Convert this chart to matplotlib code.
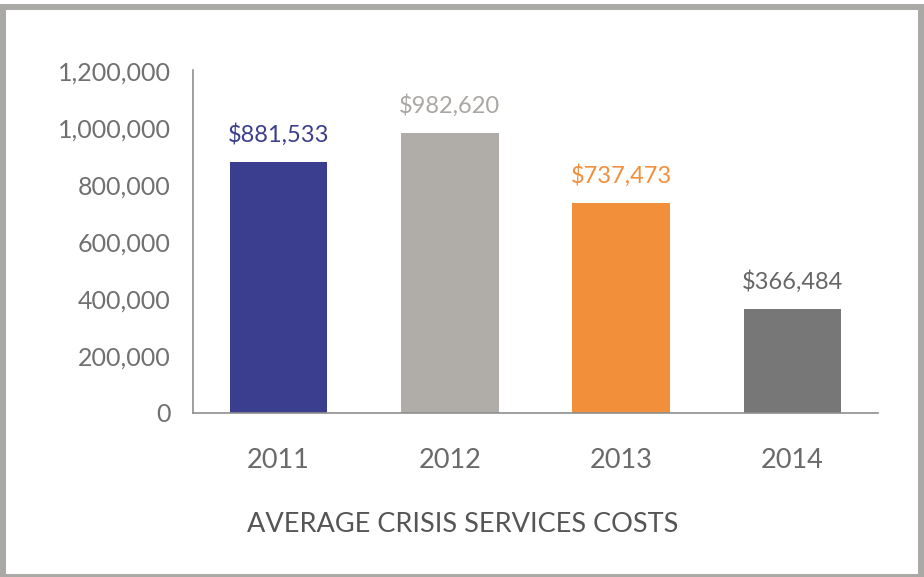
import matplotlib.pyplot as plt
from matplotlib.patches import Rectangle
from matplotlib.ticker import FuncFormatter

# Average crisis services costs per year
years = ['2011', '2012', '2013', '2014']
costs = [881533, 982620, 737473, 366484]
bar_colors = ['#3b3e8e', '#b0aca8', '#f28f3b', '#777777']
label_colors = ['#3b3e8e', '#aaa6a2', '#f28f3b', '#666666']

plt.rcParams['font.family'] = ['Lato', 'DejaVu Sans']

fig = plt.figure(figsize=(9.24, 5.77), dpi=100)
W, H = 924, 577

# grey frame round the whole graphic
fig.patches.append(Rectangle((0, 0), 1, 573 / H, transform=fig.transFigure,
                             facecolor='#aba9a6', edgecolor='none', zorder=-2))
fig.patches.append(Rectangle((6 / W, 3 / H), 912 / W, 564 / H, transform=fig.transFigure,
                             facecolor='white', edgecolor='none', zorder=-1))

ax = fig.add_axes([193 / W, 164 / H, 685 / W, 343 / H])
ax.set_facecolor('none')
ax.set_zorder(1)

x = range(len(years))
ax.bar(x, costs, width=0.57, color=bar_colors, zorder=2)

for i, v in enumerate(costs):
    ax.text(i, v + 70000, '${:,}'.format(v), ha='center', va='baseline',
            fontsize=17, color=label_colors[i])

ax.set_xlim(-0.5, 3.5)
ax.set_ylim(0, 1204000)
ax.set_yticks(range(0, 1200001, 200000))
ax.yaxis.set_major_formatter(FuncFormatter(lambda v, p: '{:,}'.format(int(v))))
ax.set_xticks(list(x))
ax.set_xticklabels(years)

for s in ['top', 'right']:
    ax.spines[s].set_visible(False)
for s in ['left', 'bottom']:
    ax.spines[s].set_color('#8f8f8f')
    ax.spines[s].set_linewidth(1.2)

ax.tick_params(axis='y', length=0, pad=16, labelsize=18, labelcolor='#707070')
ax.tick_params(axis='x', length=0, pad=25, labelsize=19.5, labelcolor='#6a6a6a')

fig.text(247 / W, 1 - 525 / H, 'AVERAGE CRISIS SERVICES COSTS', ha='left', va='center',
         fontsize=19.5, color='#555555')

fig.savefig('out.png', dpi=100)
